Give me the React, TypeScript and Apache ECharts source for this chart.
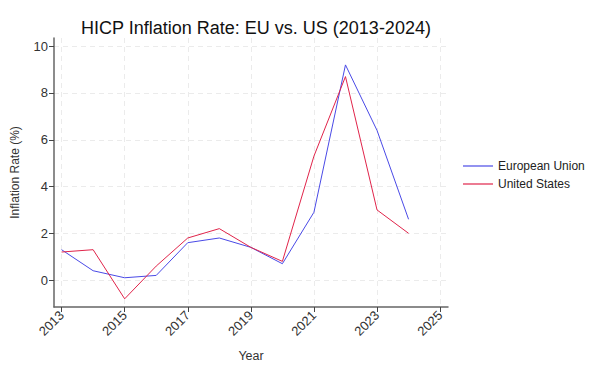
import React, { useEffect, useRef } from "react";
import * as echarts from "echarts";

const years = [2013, 2014, 2015, 2016, 2017, 2018, 2019, 2020, 2021, 2022, 2023, 2024];
const euValues = [1.3, 0.4, 0.1, 0.2, 1.6, 1.8, 1.4, 0.7, 2.9, 9.2, 6.4, 2.6];
const usValues = [1.2, 1.3, -0.8, 0.6, 1.8, 2.2, 1.4, 0.8, 5.3, 8.7, 3.0, 2.0];
const xTicks = [2013, 2015, 2017, 2019, 2021, 2023, 2025];
const yTicks = [0, 2, 4, 6, 8, 10];

export default function App() {
  const ref = useRef<HTMLDivElement>(null);
  useEffect(() => {
    if (!ref.current) return;
    const chart = echarts.init(ref.current, null, { renderer: "svg" });
    const font = "Liberation Sans, Arial, sans-serif";
    const gridLine = { show: true, lineStyle: { color: "#ebebeb", type: [5, 4] as any, width: 1 } };
    chart.setOption({
      animation: false,
      textStyle: { fontFamily: font },
      title: {
        text: "HICP Inflation Rate: EU vs. US (2013-2024)",
        left: 251,
        textAlign: "center",
        top: 14,
        textStyle: { fontSize: 18, fontWeight: "normal", color: "#111", fontFamily: font },
      },
      legend: {
        orient: "vertical",
        left: 458,
        top: 155,
        icon: "rect",
        itemWidth: 30,
        itemHeight: 1.2,
        itemGap: 6,
        textStyle: { fontSize: 12, color: "#222", fontFamily: font },
        data: ["European Union", "United States"],
      },
      grid: { left: 54, right: 147, top: 38, bottom: 62, containLabel: false },
      xAxis: {
        type: "value",
        min: 2012.76,
        max: 2025.25,
        name: "Year",
        nameLocation: "middle",
        nameGap: 42,
        nameTextStyle: { fontSize: 12.5, color: "#333", fontFamily: font },
        axisLine: { show: true, onZero: false, lineStyle: { color: "#666", width: 1.5 } },
        axisTick: { show: true, length: 5, customValues: xTicks, lineStyle: { color: "#444" } },
        axisLabel: {
          customValues: xTicks,
          rotate: 45,
          fontSize: 13,
          color: "#333",
          margin: 6,
          formatter: (v: number) => String(v),
        },
        splitLine: gridLine,
      },
      yAxis: {
        type: "value",
        min: -1.15,
        max: 10.35,
        name: "Inflation Rate (%)",
        nameLocation: "middle",
        nameGap: 33,
        nameTextStyle: { fontSize: 12, color: "#333", fontFamily: font },
        axisLine: { show: true, onZero: false, lineStyle: { color: "#666", width: 1.5 } },
        axisTick: { show: true, length: 5, customValues: yTicks, lineStyle: { color: "#444" } },
        axisLabel: {
          customValues: yTicks,
          fontSize: 13,
          color: "#333",
          margin: 6,
          formatter: (v: number) => String(v),
        },
        splitLine: gridLine,
      },
      series: [
        {
          name: "European Union",
          type: "line",
          data: years.map((y, i) => [y, euValues[i]]),
          symbol: "none",
          lineStyle: { color: "#4a4ae6", width: 1 },
          itemStyle: { color: "#4a4ae6" },
        },
        {
          name: "United States",
          type: "line",
          data: years.map((y, i) => [y, usValues[i]]),
          symbol: "none",
          lineStyle: { color: "#e0244a", width: 1 },
          itemStyle: { color: "#e0244a" },
        },
      ],
    });
    return () => chart.dispose();
  }, []);
  return <div ref={ref} style={{ width: 595, height: 369, position: "absolute", left: 0, top: 0 }} />;
}
